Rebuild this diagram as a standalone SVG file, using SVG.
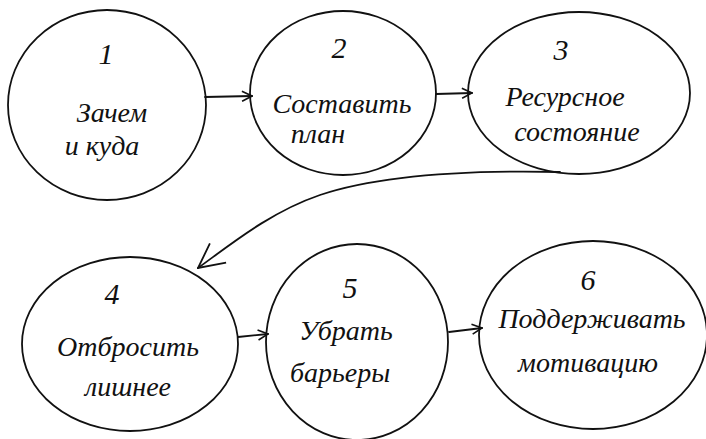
<svg xmlns="http://www.w3.org/2000/svg" width="706" height="439" viewBox="0 0 706 439">
<defs>
<style>
.node{fill:none;stroke:#111;stroke-width:1.8}
.num{font-family:"Liberation Serif",serif;font-style:italic;font-size:30px;fill:#111;text-anchor:middle}
.lbl{font-family:"Liberation Serif",serif;font-style:italic;font-size:28px;fill:#111;text-anchor:middle}
.conn{fill:none;stroke:#111;stroke-width:1.8;stroke-linecap:round}
</style>
<marker id="arr" viewBox="0 0 12 12" refX="11" refY="6" markerWidth="12" markerHeight="12" markerUnits="userSpaceOnUse" orient="auto">
<path d="M1,1 L11,6 L1,11" fill="none" stroke="#111" stroke-width="1.6"/>
</marker>
<marker id="arrBig" viewBox="0 0 28 28" refX="27" refY="14" markerWidth="28" markerHeight="28" markerUnits="userSpaceOnUse" orient="auto">
<path d="M1,2 L27,14 L3,27" fill="none" stroke="#111" stroke-width="1.8"/>
</marker>
</defs>
<rect width="706" height="439" fill="#fff"/>
<g id="connectors">
<path class="conn" d="M205,97 L252,96" marker-end="url(#arr)"/>
<path class="conn" d="M436,94 L472,93" marker-end="url(#arr)"/>
<path class="conn" d="M560,172 C470,170 380,175 320,195 C270,212 230,245 198,268" marker-end="url(#arrBig)"/>
<path class="conn" d="M238,337 L268,334" marker-end="url(#arr)"/>
<path class="conn" d="M449,332 L482,328" marker-end="url(#arr)"/>
</g>
<g id="node1">
<ellipse class="node" cx="107" cy="105" rx="99" ry="95"/>
<text class="num" x="106" y="64">1</text>
<text class="lbl" x="112" y="122">Зачем</text>
<text class="lbl" x="102" y="155">и куда</text>
</g>
<g id="node2">
<ellipse class="node" cx="343" cy="93" rx="93" ry="82"/>
<text class="num" x="339" y="58">2</text>
<text class="lbl" x="342" y="113">Составить</text>
<text class="lbl" x="318" y="143">план</text>
</g>
<g id="node3">
<ellipse class="node" cx="579" cy="93" rx="111" ry="81"/>
<text class="num" x="561" y="60">3</text>
<text class="lbl" x="565" y="106">Ресурсное</text>
<text class="lbl" x="577" y="141">состояние</text>
</g>
<g id="node4">
<ellipse class="node" cx="130" cy="344" rx="108" ry="87"/>
<text class="num" x="112" y="304">4</text>
<text class="lbl" x="128" y="356">Отбросить</text>
<text class="lbl" x="128" y="396">лишнее</text>
</g>
<g id="node5">
<ellipse class="node" cx="357" cy="342" rx="91" ry="98"/>
<text class="num" x="350" y="298">5</text>
<text class="lbl" x="346" y="340">Убрать</text>
<text class="lbl" x="340" y="382">барьеры</text>
</g>
<g id="node6">
<ellipse class="node" cx="593" cy="335" rx="114" ry="94"/>
<text class="num" x="588" y="290">6</text>
<text class="lbl" x="592" y="328">Поддерживать</text>
<text class="lbl" x="588" y="372">мотивацию</text>
</g>
</svg>
